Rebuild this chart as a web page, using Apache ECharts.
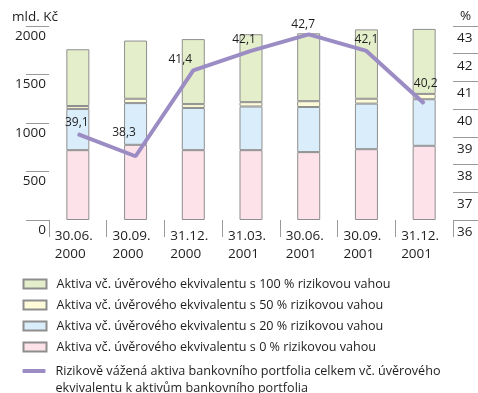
<!DOCTYPE html>
<html>
<head>
<meta charset="utf-8">
<script src="https://cdn.jsdelivr.net/npm/echarts@6/dist/echarts.min.js"></script>
<style>
  html, body { margin: 0; padding: 0; background: #fff; }
  #chart { width: 478px; height: 393px; }
</style>
</head>
<body>
<div id="chart"></div>
<script>
// Reporting dates (two-line category labels)
const periods = ['30.06.', '30.09.', '31.12.', '31.03.', '30.06.', '30.09.', '31.12.'];
const years = ['2000', '2000', '2000', '2001', '2001', '2001', '2001'];

// Assets incl. credit equivalent by risk weight, bn CZK
const assets0 = [720, 775, 720, 720, 700, 730, 765];
const assets20 = [425, 430, 435, 450, 465, 470, 480];
const assets50 = [30, 45, 40, 45, 60, 50, 55];
const assets100 = [585, 600, 670, 700, 700, 715, 670];

// Risk-weighted assets to banking-book assets, %
const riskRatio = [39.1, 38.3, 41.4, 42.1, 42.7, 42.1, 40.2];

// Axis scales
const leftAxis = { min: 0, max: 2000, step: 500 };
const rightAxis = { min: 36, max: 43, step: 1 };

const names = {
  w100: 'Aktiva vč. úvěrového ekvivalentu s 100 % rizikovou vahou',
  w50: 'Aktiva vč. úvěrového ekvivalentu s 50 % rizikovou vahou',
  w20: 'Aktiva vč. úvěrového ekvivalentu s 20 % rizikovou vahou',
  w0: 'Aktiva vč. úvěrového ekvivalentu s 0 % rizikovou vahou',
  ratio: 'Rizikově vážená aktiva bankovního portfolia celkem vč. úvěrového\nekvivalentu k aktivům bankovního portfolia'
};

// Nudges for the percentage labels so they sit clear of the line
const labelShift = [[-1, 0], [-11.5, -12], [-13, 1], [-7, 0], [-5.5, 2], [0, 0], [1.5, -9]];

const FONT = '"Open Sans", sans-serif';
const TEXT = '#1e1e1e';
const GRAYLINE = '#9a9a9a';
const BAR_BORDER = '#8e8e8e';

const categories = periods.map((p, i) => p + '\n' + years[i]);

function barSeries(name, data, color) {
  return {
    name: name,
    type: 'bar',
    stack: 'assets',
    barWidth: 23,
    data: data,
    itemStyle: { color: color, borderColor: BAR_BORDER, borderWidth: 1 },
    emphasis: { disabled: true }
  };
}

const chart = echarts.init(document.getElementById('chart'), null, { renderer: 'canvas' });

chart.setOption({
  backgroundColor: '#fff',
  animation: false,
  textStyle: { fontFamily: FONT, color: TEXT },
  grid: { left: 49, right: 25, top: 26, bottom: 173, containLabel: false },
  graphic: [
    { type: 'text', left: 12, top: 10, style: { text: 'mld. Kč', font: '13.5px ' + FONT, fill: TEXT } },
    { type: 'text', left: 460, top: 9, style: { text: '%', font: '13.5px ' + FONT, fill: TEXT } }
  ],
  legend: [
    {
      orient: 'vertical',
      left: 17.5,
      top: 270.5,
      itemWidth: 23,
      itemHeight: 9,
      itemGap: 4,
      icon: 'rect',
      data: [names.w100, names.w50, names.w20, names.w0],
      textStyle: { fontFamily: FONT, fontSize: 12.6, lineHeight: 17, color: TEXT, padding: [0, 0, 0, 5] }
    },
    {
      // blank leading line keeps the first text line level with the icon
      orient: 'vertical',
      left: 17.5,
      top: 340.5,
      itemWidth: 23,
      itemHeight: 4,
      data: [{ name: names.ratio, icon: 'roundRect' }],
      formatter: name => ' \n' + name,
      textStyle: { fontFamily: FONT, fontSize: 12.6, lineHeight: 17, color: TEXT, padding: [0, 0, 0, 5] }
    }
  ],
  xAxis: {
    type: 'category',
    data: categories,
    axisLine: { show: false },
    axisTick: { show: true, length: 17, interval: 0, lineStyle: { color: GRAYLINE, width: 1 } },
    axisLabel: {
      interval: 0,
      margin: 7,
      formatter: v => v.split('\n').map(s => '{t|' + s + '}').join('\n'),
      rich: { t: { width: 46, align: 'left', fontSize: 13.5, lineHeight: 18, fontFamily: FONT, color: TEXT } }
    }
  },
  yAxis: [
    {
      type: 'value',
      min: leftAxis.min,
      max: leftAxis.max,
      interval: leftAxis.step,
      axisLine: { show: false },
      splitLine: { show: false },
      axisTick: { show: true, length: 23, lineStyle: { color: GRAYLINE, width: 1 } },
      axisLabel: {
        margin: 3, fontSize: 13.5, color: TEXT, verticalAlign: 'top', padding: [3, 0, 0, 0],
        formatter: v => String(v)
      }
    },
    {
      type: 'value',
      position: 'right',
      min: rightAxis.min,
      max: rightAxis.max,
      interval: rightAxis.step,
      axisLine: { show: false },
      splitLine: { show: false },
      axisTick: { show: true, length: 25, lineStyle: { color: GRAYLINE, width: 1 } },
      axisLabel: {
        margin: 4, fontSize: 13.5, color: TEXT, verticalAlign: 'top', padding: [5, 0, 0, 0],
        formatter: v => String(v)
      }
    }
  ],
  series: [
    barSeries(names.w0, assets0, '#fde2ea'),
    barSeries(names.w20, assets20, '#daedfa'),
    barSeries(names.w50, assets50, '#fdfbd8'),
    barSeries(names.w100, assets100, '#e5eecb'),
    {
      name: names.ratio,
      type: 'line',
      yAxisIndex: 1,
      z: 5,
      symbol: 'circle',
      symbolSize: 1,
      data: riskRatio.map((v, i) => ({ value: v, label: { offset: labelShift[i] } })),
      lineStyle: { color: '#9b8cc4', width: 4 },
      itemStyle: { color: '#9b8cc4' },
      emphasis: { disabled: true },
      label: {
        show: true,
        position: 'top',
        distance: 5,
        fontSize: 12,
        fontFamily: FONT,
        color: TEXT,
        formatter: p => p.value.toFixed(1).replace('.', ',')
      }
    }
  ]
});
</script>
</body>
</html>
